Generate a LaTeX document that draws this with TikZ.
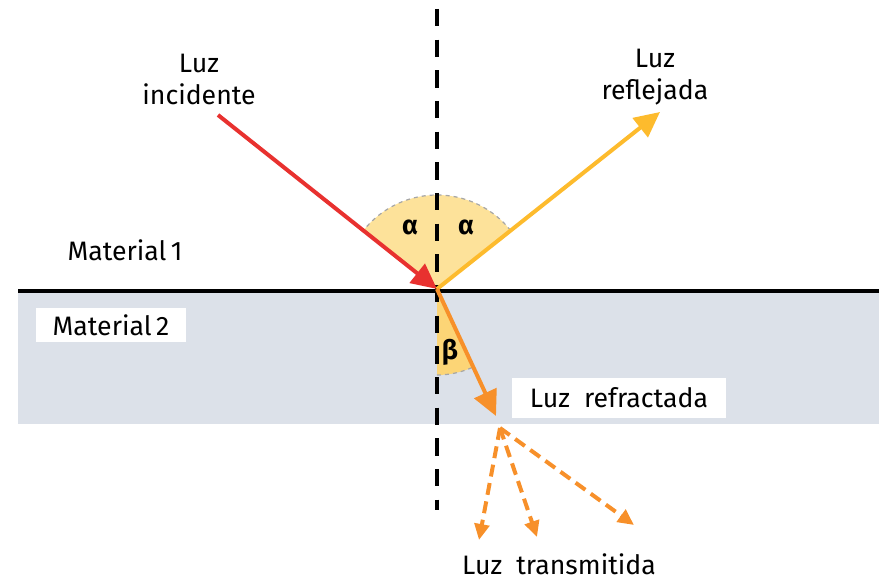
\documentclass[tikz,border=0pt]{standalone}
\usepackage{fontspec}
\setmainfont{Fira Sans}
\usepackage{tikz}
\usetikzlibrary{arrows.meta,positioning}

\definecolor{bandgray}{HTML}{DCE1E9}
\definecolor{incred}{HTML}{E8312F}
\definecolor{refyellow}{HTML}{FDBB2D}
\definecolor{refrorange}{HTML}{F7902A}
\definecolor{alphafill}{HTML}{FDE29A}
\definecolor{betafill}{HTML}{FCD576}

\begin{document}
\begin{tikzpicture}[
  x=0.75pt, y=-0.75pt,
  lbl/.style={font=\fontsize{20}{24}\selectfont, align=center, inner sep=0pt},
  whitebox/.style={lbl, fill=white, inner xsep=8pt, inner ysep=5pt},
  ray/.style={line width=3pt, -{Triangle[length=19pt,width=18pt]}},
  trans/.style={line width=3pt, refrorange, dash pattern=on 9pt off 5pt,
                -{Triangle[length=12pt,width=11pt]}},
  angarc/.style={gray!70, dashed, line width=0.9pt}
]
\useasboundingbox (0,0) rectangle (879,581);

% the two materials
\fill[bandgray] (18,291) rectangle (879,424);

% points of the rays
\coordinate (O)   at (437,289);
\coordinate (inc) at (218,115);
\coordinate (rfl) at (660,112);
\coordinate (rfr) at (496,416);
\coordinate (t0)  at (500,428);
\coordinate (t1)  at (479,540);
\coordinate (t2)  at (537,537);
\coordinate (t3)  at (634,525);
\coordinate (ntop) at (437,9);
\coordinate (nbot) at (437,510);
\coordinate (sl)  at (18,291);
\coordinate (sr)  at (879,291);

% angles (y axis points down, so angles are mirrored)
\fill[alphafill] (O) -- ++(-38.4:94) arc[start angle=-38.4, end angle=-141.5, radius=94] -- cycle;
\draw[angarc] (O) ++(-38.4:94) arc[start angle=-38.4, end angle=-141.5, radius=94];
\fill[betafill] (O) -- ++(90:86) arc[start angle=90, end angle=65.3, radius=86] -- cycle;
\draw[angarc] (O) ++(90:86) arc[start angle=90, end angle=65.3, radius=86];

% surface and normal
\draw[line width=3pt] (sl) -- (sr);
\draw[line width=3pt, dash pattern=on 13pt off 10pt] (ntop) -- (nbot);

% rays
\draw[ray, incred] (inc) -- (O);
\draw[ray, refyellow] (O) -- (rfl);
\draw[ray, refrorange] (O) -- (rfr);
\draw[trans] (t0) -- (t1);
\draw[trans] (t0) -- (t2);
\draw[trans] (t0) -- (t3);

% labels
\node[lbl] (luzinc) at (199,79) {Luz\\incidente};
\node[lbl] (luzrfl) at (655,77) {Luz\\reflejada};
\node[lbl] (mat1) at (125,250) {Material\,1};
\node[whitebox, minimum width=112pt, minimum height=25pt] (mat2) at (111,325) {Material\,2};
\node[whitebox, minimum width=160pt, minimum height=30pt] (luzrfr) at (619,398) {Luz\ \ refractada};
\node[lbl] (luztr) at (559,564) {Luz\ \ transmitida};
\node[lbl, font=\fontsize{20}{24}\selectfont\bfseries] (a1) at (410,227) {α};
\node[lbl, font=\fontsize{20}{24}\selectfont\bfseries] (a2) at (466,227) {α};
\node[lbl, font=\fontsize{20}{24}\selectfont\bfseries] (b1) at (450,352) {β};
\end{tikzpicture}
\end{document}
